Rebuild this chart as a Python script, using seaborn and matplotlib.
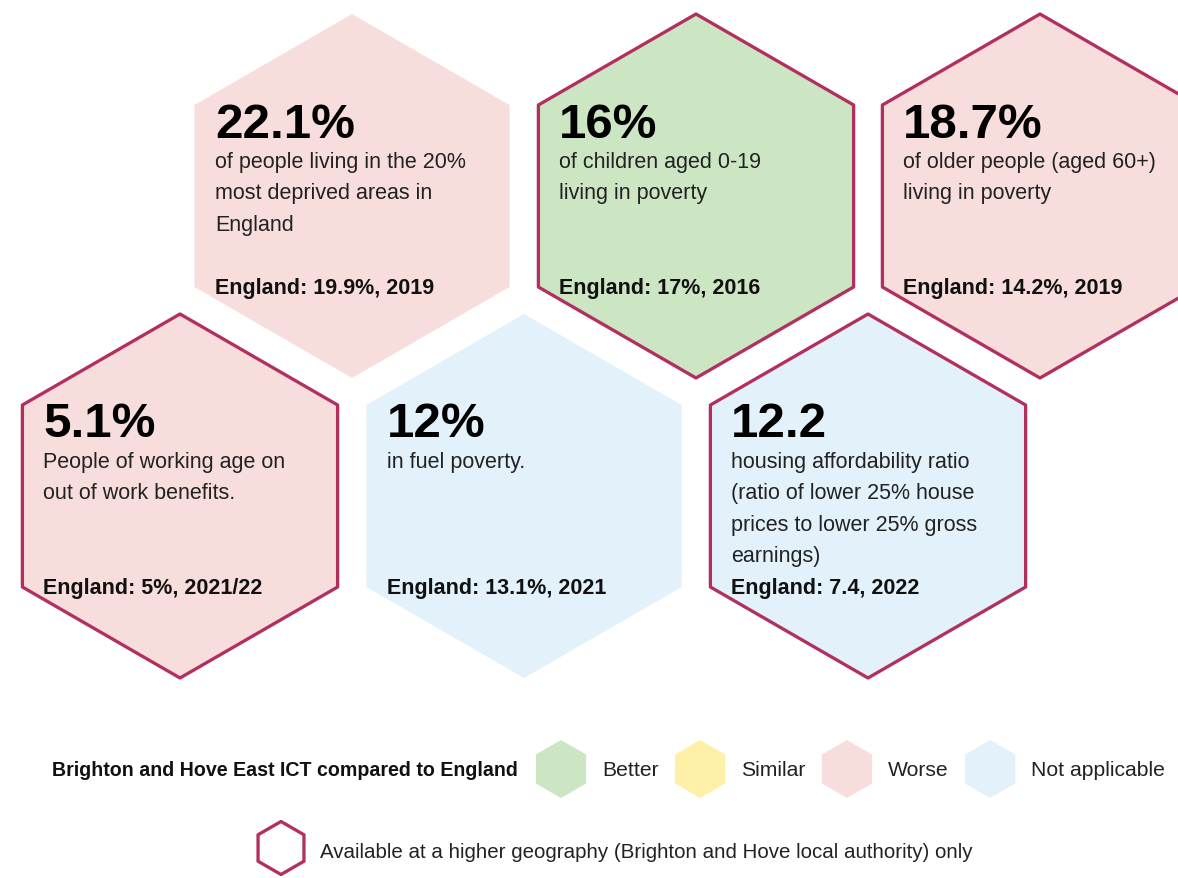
import numpy as np
import pandas as pd
import matplotlib
matplotlib.use("Agg")
import matplotlib.pyplot as plt
import seaborn as sns

# ---------------- data ----------------
values = ["22.1%", "16%", "18.7%", "5.1%", "12%", "12.2"]
descriptions = [
    ["of people living in the 20%", "most deprived areas in", "England"],
    ["of children aged 0-19", "living in poverty"],
    ["of older people (aged 60+)", "living in poverty"],
    ["People of working age on", "out of work benefits."],
    ["in fuel poverty."],
    ["housing affordability ratio", "(ratio of lower 25% house",
     "prices to lower 25% gross", "earnings)"],
]
england_values = ["England: 19.9%, 2019", "England: 17%, 2016", "England: 14.2%, 2019",
                  "England: 5%, 2021/22", "England: 13.1%, 2021", "England: 7.4, 2022"]
comparison = ["Worse", "Better", "Worse", "Worse", "Not applicable", "Not applicable"]
higher_geography = [False, True, True, True, False, True]
grid_row = [0, 0, 0, 1, 1, 1]
grid_col = [0, 1, 2, 0, 1, 2]

legend_categories = ["Better", "Similar", "Worse", "Not applicable"]
legend_title = "Brighton and Hove East ICT compared to England"
outline_label = "Available at a higher geography (Brighton and Hove local authority) only"

palette = {"Better": "#CCE6C4", "Similar": "#FFF0A8",
           "Worse": "#F8DDDD", "Not applicable": "#E2F1FA"}
outline_color = "#B2305F"

# ---------------- style ----------------
sns.set_theme(style="white")
plt.rcParams["font.family"] = ["Liberation Sans", "DejaVu Sans"]

W, H, DPI = 1178, 879, 100
fig = plt.figure(figsize=(W / DPI, H / DPI), dpi=DPI)
ax = fig.add_axes([0, 0, 1, 1])
ax.set_xlim(0, W)
ax.set_ylim(H, 0)
ax.axis("off")

px2pt = 72.0 / DPI

def msize(radius_px):
    return (2 * radius_px * px2pt) ** 2

# honeycomb layout
X0, DX, Y0, DY = 180, 344, 197, 300
R_HEX = 182
df = pd.DataFrame({
    "value": values,
    "comparison": comparison,
    "higher": higher_geography,
    "x": [X0 + DX * (c + 0.5 * (1 - r)) for r, c in zip(grid_row, grid_col)],
    "y": [Y0 + DY * r for r in grid_row],
})
edges = [outline_color if h else "none" for h in df["higher"]]

sns.scatterplot(data=df, x="x", y="y", hue="comparison", palette=palette,
                marker="h", s=msize(R_HEX), edgecolor=edges,
                linewidth=3.3 * px2pt, legend=False, ax=ax, zorder=1)

# texts inside hexagons
for i, row in df.iterrows():
    tx = row["x"] - 137
    cy = row["y"]
    ax.text(tx, cy - 59.5, values[i], fontsize=35.5, fontweight="bold",
            color="#000000", ha="left", va="baseline", zorder=3)
    for j, line in enumerate(descriptions[i]):
        ax.text(tx, cy - 29 + 31.5 * j, line, fontsize=15.5, color="#222222",
                ha="left", va="baseline", zorder=3)
    ax.text(tx, cy + 97, england_values[i], fontsize=15.5, fontweight="bold",
            color="#111111", ha="left", va="baseline", zorder=3)

# ---------------- legend ----------------
renderer = fig.canvas.get_renderer()
LEG_Y = 770
R_LEG = 29
ax.text(518, LEG_Y + 1, legend_title, fontsize=14.1, fontweight="bold",
        color="#111111", ha="right", va="center")

leg_x = []
cx = 561
for cat in legend_categories:
    leg_x.append(cx)
    t = ax.text(cx + 41, LEG_Y + 1, cat, fontsize=15.2, color="#222222",
                ha="left", va="center")
    w = t.get_window_extent(renderer).width
    cx = cx + 41 + w + 16 + 25.5

leg_df = pd.DataFrame({"x": leg_x, "y": [LEG_Y] * len(leg_x),
                       "comparison": legend_categories})
sns.scatterplot(data=leg_df, x="x", y="y", hue="comparison", palette=palette,
                marker="h", s=msize(R_LEG), edgecolor="none", linewidth=0,
                legend=False, ax=ax, zorder=1)

out_df = pd.DataFrame({"x": [281], "y": [849]})
ax.scatter(out_df["x"], out_df["y"], marker="h", s=msize(26.5),
           facecolors="none", edgecolors=outline_color, linewidths=3.3 * px2pt)
ax.text(320, 853, outline_label, fontsize=14.8, color="#222222",
        ha="left", va="center")

fig.savefig("out.png", dpi=DPI, facecolor="white")
